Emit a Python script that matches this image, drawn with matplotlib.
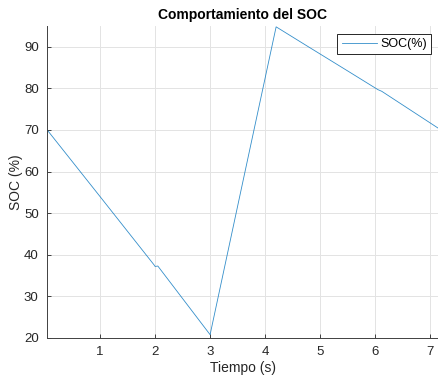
import matplotlib
matplotlib.use("Agg")
import matplotlib.pyplot as plt

time_s = [0.04, 1.0, 1.98, 2.0, 2.05, 3.0, 3.57, 4.2, 4.75, 5.5, 6.05, 6.12, 7.15]
soc_pct = [70.0, 54.0, 37.6, 37.2, 37.3, 20.8, 56.0, 94.8, 90.3, 84.2, 79.7, 79.3, 70.4]

title = "Comportamiento del SOC"
xlabel = "Tiempo (s)"
ylabel = "SOC (%)"
legend_label = "SOC(%)"
xticks = [1, 2, 3, 4, 5, 6, 7]
yticks = [20, 30, 40, 50, 60, 70, 80, 90]

plt.rcParams['font.family'] = ['Liberation Sans', 'DejaVu Sans']

fig = plt.figure(figsize=(4.38, 3.77), dpi=100)
ax = fig.add_axes([47/438, 39/377, 392/438, 312/377])

ax.plot(time_s, soc_pct, color=(0.0, 0.447, 0.741), linewidth=0.6, alpha=0.8, label=legend_label)
ax.set_xlim(0.036, 7.16)
ax.set_ylim(20, 95)
ax.set_xticks(xticks)
ax.set_yticks(yticks)
ax.grid(True, color='#e3e3e3', linewidth=0.7)
ax.set_axisbelow(True)
for s in ['top', 'right']:
    ax.spines[s].set_visible(False)
for s in ['left', 'bottom']:
    ax.spines[s].set_color('#404040')
    ax.spines[s].set_linewidth(0.7)
ax.tick_params(direction='in', length=3, width=0.6, colors='#262626', labelsize=9.5, pad=6)
ax.set_title(title, fontsize=10, fontweight='bold', pad=5)
ax.set_xlabel(xlabel, fontsize=10, color='#262626', labelpad=2)
ax.set_ylabel(ylabel, fontsize=10, color='#262626', labelpad=1)
leg = ax.legend(loc='upper right', fontsize=9, frameon=True, fancybox=False,
                edgecolor='#262626', framealpha=1, borderaxespad=0.6,
                handlelength=2.8, borderpad=0.35, handletextpad=0.3)
leg.get_frame().set_linewidth(0.7)

fig.savefig("out.png", dpi=100)
